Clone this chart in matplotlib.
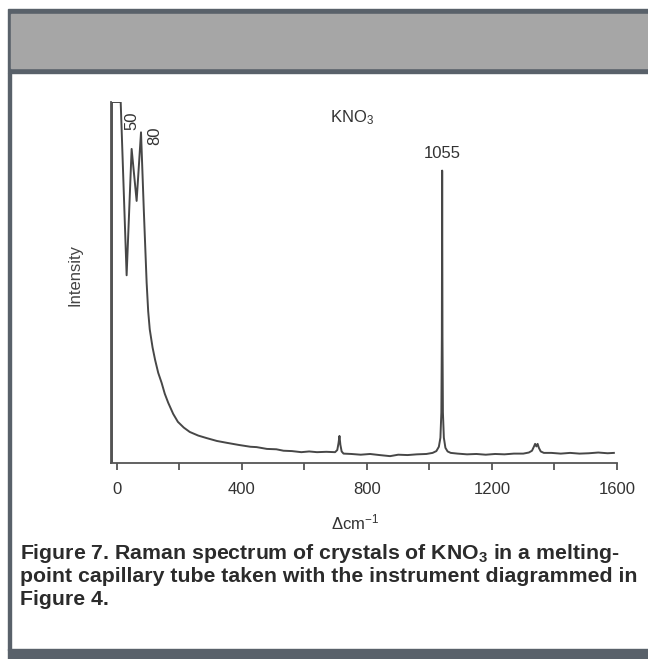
import numpy as np
import matplotlib
matplotlib.use("Agg")
import matplotlib.pyplot as plt
from matplotlib.patches import Rectangle

plt.rcParams['font.family'] = ['Liberation Sans', 'DejaVu Sans']
plt.rcParams['mathtext.fontset'] = 'custom'
plt.rcParams['mathtext.rm'] = 'Liberation Sans'
plt.rcParams['mathtext.it'] = 'Liberation Sans:italic'
plt.rcParams['mathtext.bf'] = 'Liberation Sans:bold'

# Raman shift (cm-1) and intensity (arbitrary, 0-100)
shift = [-16, -16, 12, 31, 47, 63, 77, 86, 95, 100, 105, 114, 122, 132,
         143, 153, 164, 180, 195, 214, 233, 260, 287, 320, 351, 390, 427,
         447, 480, 510, 533, 560, 590, 615, 640, 670, 698, 705, 709, 712,
         715, 719, 725, 750, 780, 810, 840, 874, 900, 930, 960, 990, 1010,
         1022, 1030, 1035, 1038, 1039.6, 1040.6, 1041.6, 1043, 1046, 1051,
         1058, 1068, 1090, 1120, 1150, 1180, 1210, 1240, 1270, 1300, 1318,
         1328, 1334, 1338, 1342, 1346, 1350, 1356, 1366, 1390, 1420, 1450,
         1480, 1510, 1540, 1570, 1590]
intensity = [0, 100, 100, 52, 87, 72.6, 91.6, 70, 50, 42, 37, 32, 28.6,
             25, 22.2, 19.2, 16.7, 13.6, 11.4, 9.8, 8.6, 7.6, 6.9, 6.1,
             5.6, 5.0, 4.5, 4.4, 3.9, 3.8, 3.4, 3.3, 3.0, 3.2, 3.0, 3.1,
             3.0, 3.6, 5.5, 7.5, 5.0, 3.2, 2.6, 2.5, 2.3, 2.5, 2.2, 1.9,
             2.3, 2.2, 2.4, 2.5, 2.8, 3.3, 4.5, 7, 14, 35, 81, 35, 14, 7,
             4.2, 3.2, 2.8, 2.6, 2.4, 2.5, 2.3, 2.5, 2.4, 2.6, 2.6, 2.9,
             3.4, 4.5, 5.3, 4.6, 5.3, 4.2, 3.2, 2.8, 2.8, 2.6, 2.8, 2.6,
             2.7, 2.9, 2.7, 2.8]

major_ticks = [0, 400, 800, 1200, 1600]
minor_ticks = [200, 600, 1000, 1400]

W, H = 648, 659
fig = plt.figure(figsize=(W / 100, H / 100), dpi=100)

def fx(px):
    return px / W

def fy(py):
    return (H - py) / H

# page decoration: banner on top, rule on the left and bottom
fig.add_artist(Rectangle((fx(8), fy(73)), fx(640), 64 / H, color='#59616a',
                         transform=fig.transFigure, zorder=0))
fig.add_artist(Rectangle((fx(11), fy(68)), fx(637), 54 / H, color='#a6a6a6',
                         transform=fig.transFigure, zorder=0))
fig.add_artist(Rectangle((fx(8), fy(650)), fx(3), 577 / H, color='#59616a',
                         transform=fig.transFigure, zorder=0))
fig.add_artist(Rectangle((fx(8), fy(659)), fx(640), 10 / H, color='#59616a',
                         transform=fig.transFigure, zorder=0))

ax = fig.add_axes([fx(111), fy(463), (617 - 111) / W, (463 - 102) / H])
ax.plot(shift, intensity, color='#474747', lw=1.4)
ax.set_xlim(-19, 1600)
ax.set_ylim(0, 100)

for s in ['top', 'right']:
    ax.spines[s].set_visible(False)
for s in ['left', 'bottom']:
    ax.spines[s].set_color('#555555')
    ax.spines[s].set_linewidth(1.3)

ax.set_yticks([])
ax.set_xticks(major_ticks)
ax.set_xticks(minor_ticks, minor=True)
ax.tick_params(axis='x', which='both', direction='out', length=5, width=1.3,
               color='#555555', labelsize=12, labelcolor='#333333', pad=9)

fig.text(fx(355), fy(522), r'$\Delta$cm$^{-1}$', ha='center', va='center',
         fontsize=12, color='#333333')
fig.text(fx(75), fy(275), 'Intensity', rotation=90, ha='center',
         va='center', fontsize=12, color='#444444')

ax.text(47, 100 * (463 - 121) / 361, '50', rotation=90, ha='center',
        va='center', fontsize=12, color='#333333')
ax.text(120, 100 * (463 - 136) / 361, '80', rotation=90, ha='center',
        va='center', fontsize=12, color='#333333')
ax.text(753, 100 * (463 - 118) / 361, r'KNO$_3$', ha='center', va='center',
        fontsize=12, color='#333333')
ax.text(1041, 100 * (463 - 154) / 361, '1055', ha='center', va='center',
        fontsize=12, color='#333333')

caption = [r'Figure 7. Raman spectrum of crystals of KNO$_\mathbf{3}$ in a melting-',
           'point capillary tube taken with the instrument diagrammed in',
           'Figure 4.']
for i, line in enumerate(caption):
    fig.text(fx(20), fy(559 + 23 * i), line, ha='left', va='baseline',
             fontsize=15.3, fontweight='bold', color='#2b2b2b')

fig.savefig('out.png', dpi=100)
